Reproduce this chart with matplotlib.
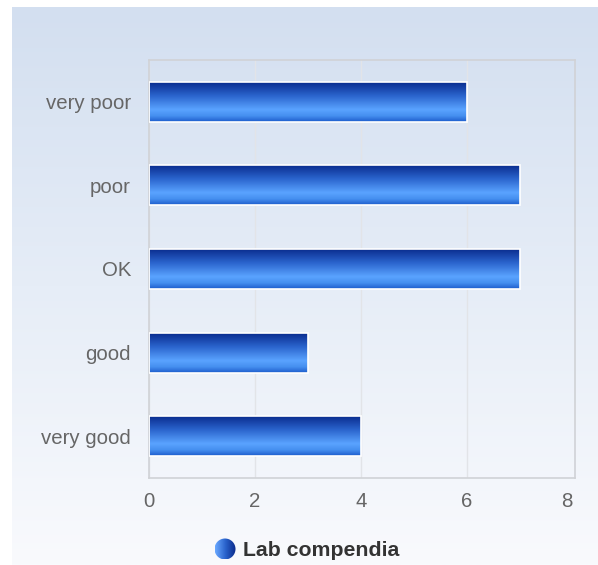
import numpy as np
import matplotlib
matplotlib.use("Agg")
import matplotlib.pyplot as plt
from matplotlib.colors import LinearSegmentedColormap
from matplotlib.patches import Circle

categories = ["very poor", "poor", "OK", "good", "very good"]
values = [6, 7, 7, 3, 4]
series_name = "Lab compendia"

plt.rcParams['font.family'] = ['Liberation Sans', 'DejaVu Sans']

W, H = 598, 565
fig = plt.figure(figsize=(W / 100, H / 100), dpi=100)

# page background: vertical gradient light blue -> near white
bg = fig.add_axes([12 / W, 0, 1 - 12 / W, 1 - 7 / H])
bg_cmap = LinearSegmentedColormap.from_list("bg", ["#d3dff0", "#e6edf7", "#f9fafd"])
bg.imshow(np.linspace(0, 1, 256).reshape(-1, 1), aspect="auto", cmap=bg_cmap,
          extent=[0, 1, 0, 1], origin="upper")
bg.set_axis_off()

ax = fig.add_axes([149 / W, (H - 478) / H, (575 - 149) / W, (478 - 60) / H])
ax.patch.set_alpha(0)

bar_cmap = LinearSegmentedColormap.from_list(
    "bar", [(0, "#08298a"), (0.35, "#2a63cc"), (0.7, "#5aa3ff"), (0.85, "#4690f0"), (1, "#1d5ccc")])
grad = np.linspace(0, 1, 128).reshape(-1, 1)

y = np.arange(len(categories))
bars = ax.barh(y, values, height=0.48, color="none", edgecolor="white", linewidth=1.2, zorder=3)
for b in bars:
    x0, y0 = b.get_x(), b.get_y()
    # y axis is inverted, so y0 is the visual top of the bar
    im = ax.imshow(grad, aspect="auto", cmap=bar_cmap, origin="upper",
                   extent=[x0, x0 + b.get_width(), y0 + b.get_height(), y0], zorder=2)
    im.set_clip_path(b)

ax.set_xlim(0, 8.04)
ax.set_ylim(len(categories) - 0.5, -0.5)
ax.set_xticks([0, 2, 4, 6, 8])
ax.set_yticks(y)
ax.set_yticklabels(categories)
ax.grid(axis="x", color="#e2e4e8", linewidth=1, zorder=0)
ax.get_xgridlines()[-1].set_visible(False)
ax.tick_params(length=0, labelsize=14.7, labelcolor="#666666")
ax.tick_params(axis="y", pad=13)
ax.tick_params(axis="x", pad=10)
ax.get_xticklabels()[-1].set_horizontalalignment("right")
for s in ax.spines.values():
    s.set_color("#d0d2d6")
    s.set_linewidth(1.2)

# legend
leg_ax = fig.add_axes([0, 0, 1, 1])
leg_ax.set_xlim(0, W)
leg_ax.set_ylim(H, 0)
leg_ax.set_axis_off()
leg_cmap = LinearSegmentedColormap.from_list("leg", ["#6aa8ff", "#2a63cc", "#0a2a8a"])
cx, cy, r = 225, 549, 10.5
im = leg_ax.imshow(np.linspace(0, 1, 64).reshape(1, -1), cmap=leg_cmap, aspect="auto",
                   extent=[cx - r, cx + r, cy + r, cy - r])
circ = Circle((cx, cy), r, transform=leg_ax.transData, facecolor="none", edgecolor="none")
leg_ax.add_patch(circ)
im.set_clip_path(circ)
leg_ax.text(243, 550, series_name, fontsize=15.3, fontweight="bold", color="#333333",
            va="center", ha="left")

fig.savefig("out.png", dpi=100)
